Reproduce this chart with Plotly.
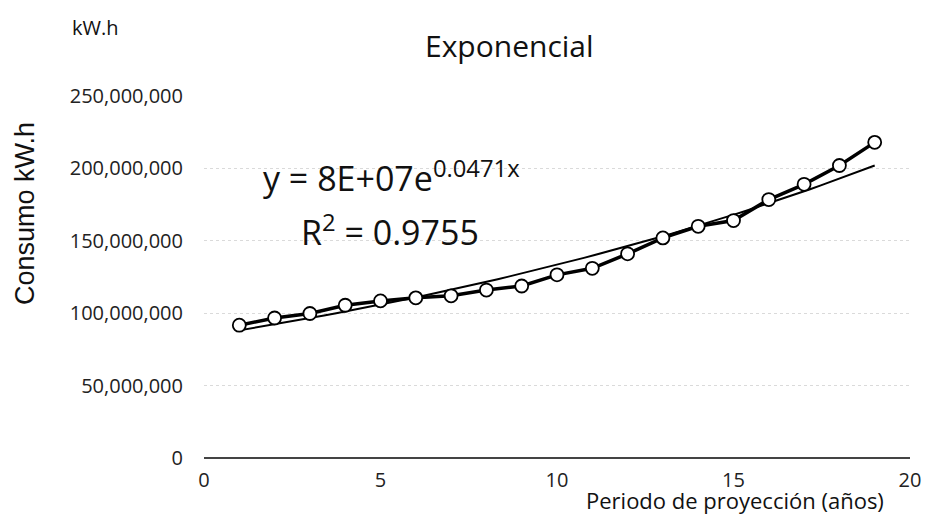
import numpy as np
import plotly.graph_objects as go

years = list(range(1, 20))
consumo = [91.7e6, 96.7e6, 99.8e6, 105.5e6, 108.5e6, 110.6e6, 112.0e6, 116.0e6, 118.8e6,
           126.5e6, 131.0e6, 141.0e6, 152.0e6, 160.0e6, 164.0e6, 178.5e6, 189.0e6, 202.0e6, 218.0e6]
y_ticks = [0, 50e6, 100e6, 150e6, 200e6, 250e6]
y_tick_labels = ["0", "50,000,000", "100,000,000", "150,000,000", "200,000,000", "250,000,000"]
x_ticks = [0, 5, 10, 15, 20]

# Exponential trendline (least squares on log values, as a spreadsheet does)
b, lnA = np.polyfit(np.array(years, float), np.log(np.array(consumo)), 1)
trend_x = np.linspace(1, 19, 60)
trend_y = np.exp(lnA) * np.exp(b * trend_x)

FONT = "Open Sans"
W, H = 942, 515
l, r, t, bm = 204, 32, 96, 57
pw, ph = W - l - r, H - t - bm


def px(x):
    return (x - l) / pw


def py(y):
    return 1 - (y - t) / ph


fig = go.Figure()
fig.add_trace(go.Scatter(x=trend_x, y=trend_y, mode="lines",
                         line=dict(color="black", width=2), showlegend=False))
fig.add_trace(go.Scatter(x=years, y=consumo, mode="lines+markers",
                         line=dict(color="black", width=3.5),
                         marker=dict(symbol="circle", size=13, color="white",
                                     line=dict(color="black", width=1.8)),
                         showlegend=False))

ann = lambda text, x, y, size, family=FONT, **kw: dict(
    text=text, x=px(x), y=py(y), xref="paper", yref="paper", showarrow=False,
    xanchor="center", yanchor="middle", bgcolor="rgba(0,0,0,0)",
    font=dict(size=size, family=family, color="#111"), **kw)

fig.update_layout(
    width=W, height=H,
    margin=dict(l=l, r=r, t=t, b=bm),
    paper_bgcolor="white", plot_bgcolor="white",
    font=dict(family=FONT, color="#222", size=20),
    xaxis=dict(range=[0, 20], tickvals=x_ticks, showgrid=False, zeroline=False,
               showline=False, ticks="", tickfont=dict(size=20), ticklabelstandoff=8),
    yaxis=dict(range=[0, 250e6], tickvals=y_ticks, ticktext=y_tick_labels,
               showgrid=True, gridcolor="#dadada", griddash="dot", gridwidth=1,
               zeroline=True, zerolinecolor="#444", zerolinewidth=1.5,
               showline=False, ticks="", tickfont=dict(size=20), ticklabelstandoff=20),
    annotations=[
        ann("Exponencial", 509, 45, 30),
        ann("kW.h", 95, 27, 20),
        ann("Consumo kW.h", 25, 214, 27, family="Liberation Sans", textangle=-90),
        ann("Periodo de proyección (años)", 735, 500, 22),
        ann("y = 8E+07e<sup>0.0471x</sup>", 391, 176, 34),
        ann("R<sup>2</sup> = 0.9755", 390, 230, 34),
    ],
)

fig.write_html("out.html", config={"displayModeBar": False},
               post_script="document.body.style.margin='0';")
